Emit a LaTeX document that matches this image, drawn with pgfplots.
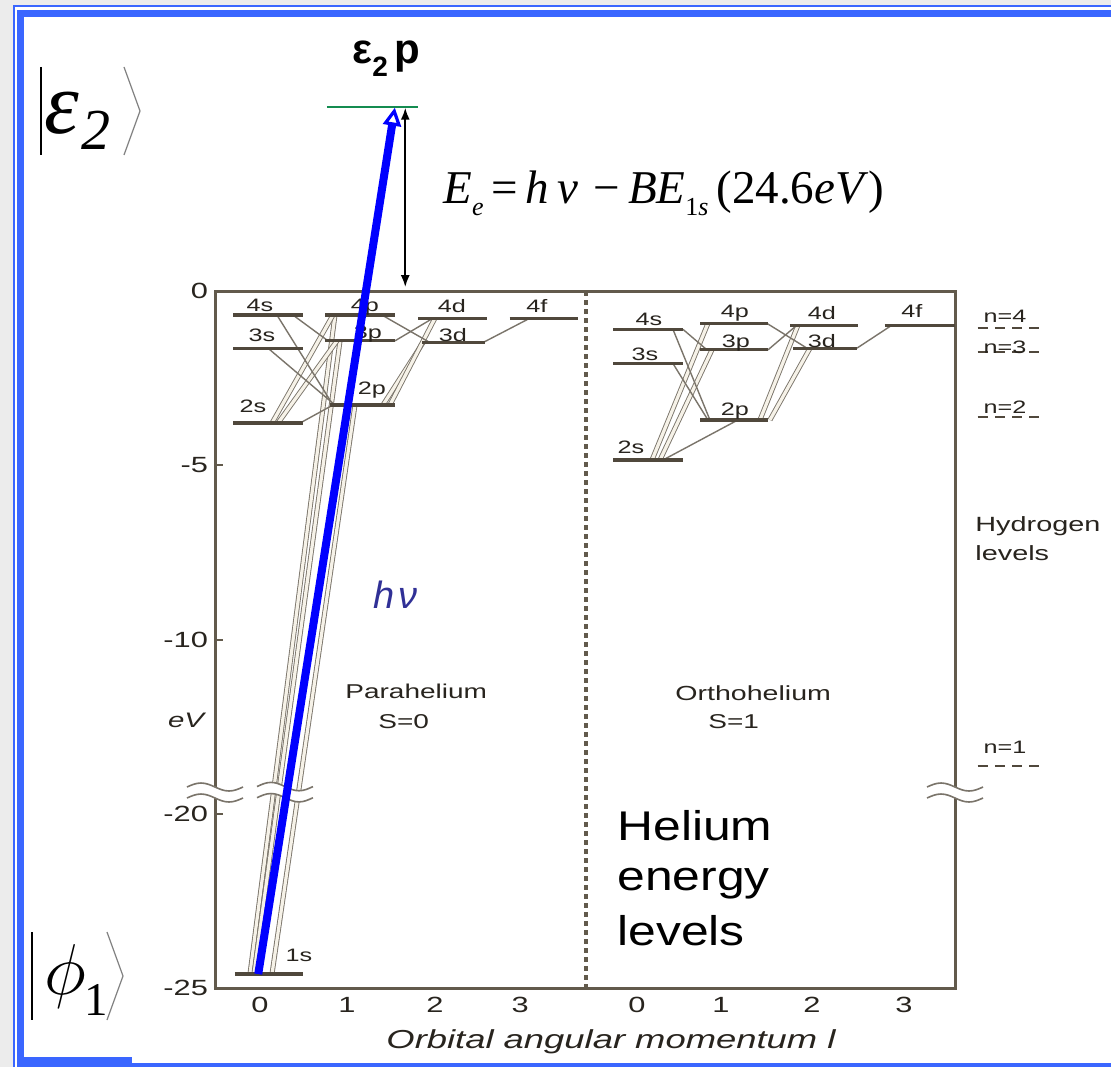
\RequirePackage{fix-cm}
\documentclass[border=0pt]{standalone}
\usepackage{fontspec}
\setmainfont{Liberation Sans}[FakeStretch=1.4]
\newfontfamily\slidefont{Liberation Sans}[FakeStretch=1.2]
\newfontfamily\plainsans{Liberation Sans}
\newfontfamily\tnr{Liberation Serif}
\usepackage{pgfplots}
\pgfplotsset{compat=1.18}
\usetikzlibrary{arrows.meta}

\definecolor{framecol}{RGB}{58,102,255}
\definecolor{pagegray}{RGB}{236,236,236}
\definecolor{axiscol}{RGB}{98,90,76}
\definecolor{lvlcol}{RGB}{80,72,60}
\definecolor{trcol}{RGB}{122,116,106}
\definecolor{trfill}{RGB}{246,242,232}
\definecolor{hvcol}{RGB}{48,48,150}
\definecolor{contcol}{RGB}{20,140,80}
\definecolor{labcol}{RGB}{40,36,30}

\tikzset{
  lvl/.style={draw=lvlcol, line width=1.6pt},
  tr/.style={draw=trcol, line width=0.7pt},
  dtr/.style={draw=trcol, line width=0.45pt, double=trfill, double distance=1.6pt},
  hyd/.style={draw=lvlcol, line width=1.1pt, dash pattern=on 5pt off 3.6pt},
  brk/.style={draw=trcol, line width=0.8pt},
  lab/.style={anchor=base, inner sep=0pt, text=labcol, font=\fontsize{9}{10}\selectfont},
  txt/.style={anchor=base west, inner sep=0pt, text=labcol},
}

% energy level: x from, x to, energy (eV; values below the axis break are raised by 5 eV)
\newcommand\level[3]{\addplot[lvl] coordinates {(#1,#3) (#2,#3)};}
% single and doubled transition lines
\newcommand\trans[4]{\addplot[tr] coordinates {(#1,#2) (#3,#4)};}
\newcommand\dtrans[4]{\addplot[dtr] coordinates {(#1,#2) (#3,#4)};}
% hydrogen reference level, dashed, right of the frame
\newcommand\hlevel[1]{\addplot[hyd] coordinates {(8.25,#1) (9.0,#1)};}
% axis-break mark in axis units: left x, width
\newcommand\brkmark[2]{%
  \fill[white] (axis cs:#1,-14.22) sin (axis cs:{#1+0.25*#2},-14.10) cos (axis cs:{#1+0.5*#2},-14.22)
     sin (axis cs:{#1+0.75*#2},-14.34) cos (axis cs:{#1+#2},-14.22) -- (axis cs:{#1+#2},-14.54)
     sin (axis cs:{#1+0.75*#2},-14.66) cos (axis cs:{#1+0.5*#2},-14.54)
     sin (axis cs:{#1+0.25*#2},-14.42) cos (axis cs:#1,-14.54) -- cycle;
  \draw[brk] (axis cs:#1,-14.22) sin (axis cs:{#1+0.25*#2},-14.10) cos (axis cs:{#1+0.5*#2},-14.22)
     sin (axis cs:{#1+0.75*#2},-14.34) cos (axis cs:{#1+#2},-14.22);
  \draw[brk] (axis cs:#1,-14.54) sin (axis cs:{#1+0.25*#2},-14.42) cos (axis cs:{#1+0.5*#2},-14.54)
     sin (axis cs:{#1+0.75*#2},-14.66) cos (axis cs:{#1+#2},-14.54);
}
% the same mark in pixel units (y downwards): left x, width
\newcommand\pxbrk[2]{%
  \fill[white] (#1,787) sin ({#1+0.25*#2},783) cos ({#1+0.5*#2},787) sin ({#1+0.75*#2},791) cos ({#1+#2},787)
     -- ({#1+#2},798) sin ({#1+0.75*#2},802) cos ({#1+0.5*#2},798) sin ({#1+0.25*#2},794) cos (#1,798) -- cycle;
  \draw[brk] (#1,787) sin ({#1+0.25*#2},783) cos ({#1+0.5*#2},787) sin ({#1+0.75*#2},791) cos ({#1+#2},787);
  \draw[brk] (#1,798) sin ({#1+0.25*#2},794) cos ({#1+0.5*#2},798) sin ({#1+0.75*#2},802) cos ({#1+#2},798);
}

\begin{document}
\begin{tikzpicture}
\useasboundingbox (0,0) rectangle (555.5pt,533.5pt);
\fill[pagegray] (0,0) rectangle (555.5pt,533.5pt);

% slide frame, in pixel units (y downwards)
\begin{scope}[x=0.5pt,y=-0.5pt,yshift=533.5pt]
  \fill[white] (13,5) rectangle (1111,1067);
  \fill[framecol] (13,5) rectangle (1111,7);
  \fill[framecol] (13,5) rectangle (15,1067);
  \fill[framecol] (17,10) rectangle (1111,17);
  \fill[framecol] (17,10) rectangle (24,1067);
  \fill[framecol] (17,1057) rectangle (132,1067);
  \fill[framecol] (132,1063) rectangle (1111,1067);
\end{scope}

\begin{axis}[
  at={(107.5pt,39.5pt)}, anchor=south west,
  scale only axis, width=370pt, height=348.5pt,
  xmin=-0.517, xmax=7.989, ymin=-20, ymax=0,
  clip=false,
  axis line style={draw=axiscol, line width=1.5pt},
  xtick={0,1,2.01,2.99,4.333,5.299,6.345,7.402},
  xticklabels={0,1,2,3,0,1,2,3},
  ytick={-20,-15,-10,-5,0},
  yticklabels={-25,-20,-10,-5,0},
  ytick pos=left,
  tick align=inside,
  major tick length=4pt,
  xtick style={draw=none},
  ytick style={draw=axiscol, line width=1pt},
  ticklabel style={font=\fontsize{11}{12}\selectfont, text=labcol},
  xticklabel style={yshift=-1pt},
]
% ---- parahelium transitions
\dtrans{-0.115}{-19.6}{0.862}{-0.69}
\dtrans{-0.069}{-19.6}{0.92}{-1.43}
\dtrans{0.138}{-19.6}{1.092}{-3.27}
\dtrans{0.138}{-3.79}{0.839}{-0.69}
\dtrans{0.207}{-3.79}{0.885}{-1.43}
\trans{0.46}{-3.79}{0.839}{-3.27}
\trans{0.195}{-0.69}{0.839}{-3.27}
\trans{0.092}{-1.64}{0.862}{-3.27}
\trans{0.379}{-0.69}{0.782}{-1.43}
\dtrans{1.414}{-3.27}{1.874}{-1.48}
\dtrans{1.494}{-3.27}{2.011}{-0.78}
\trans{1.552}{-1.43}{1.989}{-0.78}
\trans{1.402}{-0.69}{1.954}{-1.48}
\trans{3.103}{-0.78}{2.563}{-1.48}
% ---- orthohelium transitions
\dtrans{4.506}{-4.85}{5.149}{-0.93}
\dtrans{4.598}{-4.85}{5.195}{-1.69}
\trans{4.632}{-4.85}{5.494}{-3.70}
\trans{4.747}{-1.10}{5.172}{-3.70}
\trans{4.747}{-2.08}{5.149}{-3.70}
\trans{4.862}{-1.10}{5.138}{-1.69}
\dtrans{5.747}{-3.70}{6.184}{-0.98}
\dtrans{5.862}{-3.70}{6.322}{-1.64}
\trans{5.839}{-1.69}{6.172}{-0.98}
\trans{5.828}{-0.93}{6.287}{-1.64}
\trans{7.264}{-0.98}{6.862}{-1.64}
% ---- parahelium levels (S=0)
\level{-0.31}{0.49}{-0.69}
\level{-0.31}{0.49}{-1.64}
\level{-0.31}{0.49}{-3.79}
\level{-0.29}{0.49}{-19.6}
\level{0.75}{1.55}{-0.69}
\level{0.75}{1.55}{-1.43}
\level{0.80}{1.55}{-3.27}
\level{1.82}{2.61}{-0.78}
\level{1.86}{2.59}{-1.48}
\level{2.87}{3.66}{-0.78}
% ---- orthohelium levels (S=1)
\level{4.06}{4.86}{-1.10}
\level{4.06}{4.86}{-2.08}
\level{4.06}{4.86}{-4.85}
\level{5.06}{5.84}{-0.93}
\level{5.06}{5.84}{-1.69}
\level{5.06}{5.84}{-3.70}
\level{6.09}{6.87}{-0.98}
\level{6.13}{6.86}{-1.64}
\level{7.18}{7.989}{-0.98}
% ---- hydrogen levels
\hlevel{-1.06}
\hlevel{-1.75}
\hlevel{-3.61}
\hlevel{-13.63}
% ---- divider between the two spin systems
\addplot[draw=axiscol, line width=2pt, dash pattern=on 2.5pt off 2pt] coordinates {(3.75,0) (3.75,-20)};
% ---- break across the 1s transitions
\brkmark{-0.034}{0.643}
% ---- level labels
\node[lab] at (axis cs:0,-0.60) {4s};
\node[lab] at (axis cs:0.023,-1.46) {3s};
\node[lab] at (axis cs:-0.08,-3.50) {2s};
\node[lab] at (axis cs:1.207,-0.60) {4p};
\node[lab] at (axis cs:1.241,-1.35) {3p};
\node[lab] at (axis cs:1.287,-2.98) {2p};
\node[lab] at (axis cs:2.207,-0.63) {4d};
\node[lab] at (axis cs:2.218,-1.46) {3d};
\node[lab] at (axis cs:3.184,-0.63) {4f};
\node[lab] at (axis cs:0.448,-19.25) {1s};
\node[lab] at (axis cs:4.471,-0.98) {4s};
\node[lab] at (axis cs:4.425,-1.98) {3s};
\node[lab] at (axis cs:4.264,-4.65) {2s};
\node[lab] at (axis cs:5.46,-0.77) {4p};
\node[lab] at (axis cs:5.471,-1.61) {3p};
\node[lab] at (axis cs:5.46,-3.56) {2p};
\node[lab] at (axis cs:6.46,-0.83) {4d};
\node[lab] at (axis cs:6.46,-1.61) {3d};
\node[lab] at (axis cs:7.494,-0.77) {4f};
% ---- continuum state, photoelectron energy and photon
\addplot[draw=contcol, line width=0.6pt] coordinates {(0.77,5.28) (1.82,5.28)};
\addplot[draw=black, line width=1pt, {Latex[length=6pt,width=4.5pt]}-{Latex[length=6pt,width=4.5pt]}] coordinates {(1.67,0.11) (1.67,5.26)};
\addplot[draw=blue, line width=4pt, -{Triangle[open,length=9pt,width=9pt,line width=1.6pt]}] coordinates {(-0.02,-19.6) (1.55,5.26)};
\end{axis}

% ---- breaks in the frame, texts around the diagram, in pixel units (y downwards)
\begin{scope}[x=0.5pt,y=-0.5pt,yshift=533.5pt]
  \pxbrk{187}{56}
  \pxbrk{927}{56}
  \node[anchor=center, inner sep=0pt, text=labcol, font=\fontsize{10.5}{12}\selectfont\itshape] at (186,720) {eV};
  \node[anchor=base, inner sep=0pt, text=labcol, font=\fontsize{13}{14}\selectfont\itshape] at (611,1048) {Orbital angular momentum l};
  \node[txt, font=\fontsize{10}{11}\selectfont] at (345,698) {Parahelium};
  \node[txt, font=\fontsize{10}{11}\selectfont] at (378,728) {S=0};
  \node[txt, font=\fontsize{10.2}{11}\selectfont] at (675,700) {Orthohelium};
  \node[txt, font=\fontsize{10}{11}\selectfont] at (708,728) {S=1};
  \node[txt, text=black, font=\slidefont\fontsize{20.75}{22}\selectfont] at (617,840) {Helium};
  \node[txt, text=black, font=\slidefont\fontsize{20.75}{22}\selectfont] at (617,890) {energy};
  \node[txt, text=black, font=\slidefont\fontsize{20.75}{22}\selectfont] at (617,945) {levels};
  \node[txt, font=\fontsize{10.3}{11}\selectfont] at (975,531) {Hydrogen};
  \node[txt, font=\fontsize{10.3}{11}\selectfont] at (975,560) {levels};
  \node[anchor=base, inner sep=0pt, text=labcol, font=\fontsize{9}{10}\selectfont] at (1005,323) {n=4};
  \node[anchor=base, inner sep=0pt, text=labcol, font=\fontsize{9}{10}\selectfont] at (1005,354) {n=3};
  \node[anchor=base, inner sep=0pt, text=labcol, font=\fontsize{9}{10}\selectfont] at (1005,413) {n=2};
  \node[anchor=base, inner sep=0pt, text=labcol, font=\fontsize{9}{10}\selectfont] at (1005,753) {n=1};
  % photon label
  \node[anchor=base west, inner sep=0pt, text=hvcol, font=\plainsans\itshape\fontsize{19}{20}\selectfont] at (373,608) {h\kern2pt ν};
  % continuum state label
  \node[anchor=base west, inner sep=0pt, font=\plainsans\bfseries\fontsize{21}{22}\selectfont] at (352,64) {ε\raisebox{-0.3em}{\fontsize{14}{14}\selectfont 2}\,p};
  % photoelectron energy
  \node[anchor=base west, inner sep=0pt, font=\tnr\fontsize{23.5}{24}\selectfont] at (443,204)
    {\textit{E}\raisebox{-0.25em}{\fontsize{13}{13}\selectfont\textit{e}}\,=\,\textit{h}\,\textit{ν}\,\,−\,\textit{BE}\raisebox{-0.25em}{\fontsize{13}{13}\selectfont 1\textit{s}}\,(24.6\textit{eV})};
  % ket of the final state
  \draw[black, line width=0.6pt] (41,67) -- (41,155);
  \draw[gray, line width=0.6pt] (124,67) -- (140,111) -- (124,155);
  \node[anchor=base west, inner sep=0pt, font=\tnr\itshape\fontsize{44}{44}\selectfont] at (44,134) {ε};
  \node[anchor=base west, inner sep=0pt, font=\tnr\itshape\fontsize{29}{29}\selectfont] at (81,150) {2};
  % ket of the initial state
  \draw[black, line width=0.6pt] (32,932) -- (32,1020);
  \draw[gray, line width=0.6pt] (107,932) -- (123,976) -- (107,1020);
  \node[anchor=base west, inner sep=0pt] at (44,994) {\fontsize{36}{36}\selectfont$\phi$};
  \node[anchor=base west, inner sep=0pt, font=\tnr\fontsize{23.5}{24}\selectfont] at (84,1015) {1};
\end{scope}
\end{tikzpicture}
\end{document}
